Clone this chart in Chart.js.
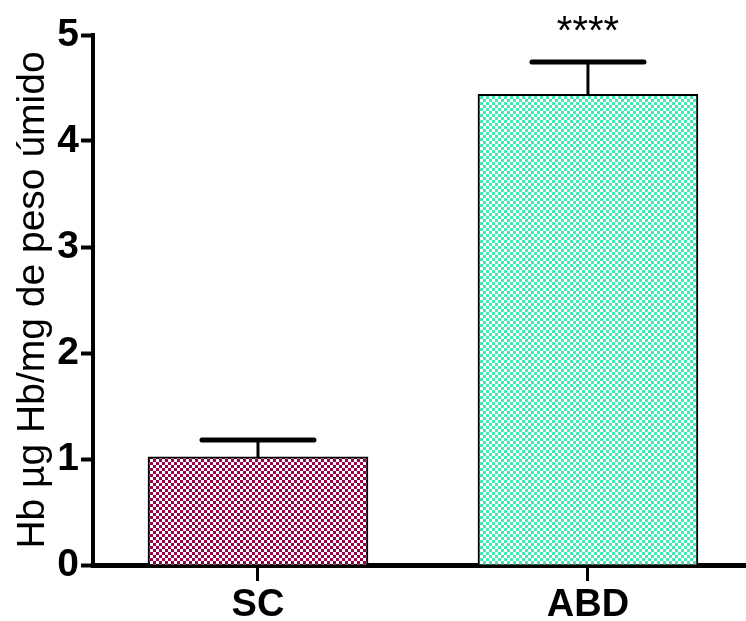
<!DOCTYPE html>
<html>
<head>
<meta charset="utf-8">
<script src="https://cdn.jsdelivr.net/npm/chart.js@4.4.1/dist/chart.umd.min.js"></script>
<style>
    html, body { margin: 0; padding: 0; background: #fff; }
    #wrap { width: 746px; height: 621px; }
</style>
</head>
<body>
<div id="wrap"><canvas id="myChart" width="746" height="621"></canvas></div>
<script>
const categories = ['SC', 'ABD'];
const means = [1.02, 4.44];
const errors = [0.16, 0.305];
const marks = ['', '****'];
const yTicks = [0, 1, 2, 3, 4, 5];
const barColors = ['#99004c', '#40ebb0'];

const FONT = '"Liberation Sans", Arial, sans-serif';

// шахматная заливка 3px
function checker(color) {
    const c = document.createElement('canvas');
    c.width = 6;
    c.height = 6;
    const g = c.getContext('2d');
    g.fillStyle = '#ffffff';
    g.fillRect(0, 0, 6, 6);
    g.fillStyle = color;
    g.fillRect(0, 0, 3, 3);
    g.fillRect(3, 3, 3, 3);
    return g.createPattern(c, 'repeat');
}

const errorBars = {
    id: 'errorBars',
    afterDatasetsDraw(chart) {
        const ctx = chart.ctx;
        const y = chart.scales.y;
        const meta = chart.getDatasetMeta(0);
        ctx.save();
        ctx.strokeStyle = '#000';
        ctx.lineCap = 'round';
        meta.data.forEach((bar, i) => {
            const top = y.getPixelForValue(means[i] + errors[i]);
            const base = y.getPixelForValue(means[i]);
            ctx.lineWidth = 3;
            ctx.beginPath();
            ctx.moveTo(bar.x, base);
            ctx.lineTo(bar.x, top);
            ctx.stroke();
            ctx.lineWidth = 5;
            ctx.beginPath();
            ctx.moveTo(bar.x - 56, top);
            ctx.lineTo(bar.x + 56, top);
            ctx.stroke();
            if (marks[i]) {
                ctx.fillStyle = '#000';
                ctx.font = '40px ' + FONT;
                ctx.textAlign = 'center';
                ctx.textBaseline = 'alphabetic';
                ctx.fillText(marks[i], bar.x, top - 18);
            }
        });
        ctx.restore();
    }
};

const ctx = document.getElementById('myChart').getContext('2d');
const myChart = new Chart(ctx, {
    type: 'bar',
    data: {
        datasets: [{
            data: means.map((v, i) => ({ x: i, y: v })),
            backgroundColor: barColors.map(checker),
            borderColor: '#000',
            borderWidth: 2,
            borderSkipped: 'bottom',
            barThickness: 220
        }]
    },
    options: {
        responsive: false,
        animation: false,
        layout: { padding: { top: 35, right: 0, left: 0, bottom: 0 } },
        plugins: {
            legend: { display: false },
            tooltip: { enabled: false }
        },
        scales: {
            x: {
                type: 'linear',
                min: -0.5,
                max: 1.479,
                offset: false,
                z: 1,
                afterBuildTicks: (s) => { s.ticks = categories.map((c, i) => ({ value: i })); },
                afterFit: (s) => { s.height = 56; },
                ticks: {
                    callback: (v) => categories[v],
                    color: '#000',
                    font: { family: FONT, size: 38, weight: 'bold' },
                    padding: 2,
                    autoSkip: false,
                    maxRotation: 0
                },
                grid: {
                    offset: false,
                    drawOnChartArea: false,
                    drawTicks: true,
                    tickLength: 16,
                    tickWidth: 3,
                    tickColor: '#000'
                },
                border: { display: true, color: '#000', width: 5 }
            },
            y: {
                min: 0,
                max: 5,
                z: 1,
                afterBuildTicks: (s) => { s.ticks = yTicks.map(v => ({ value: v })); },
                afterFit: (s) => { s.width = 93; },
                ticks: {
                    color: '#000',
                    font: { family: FONT, size: 39, weight: 'bold' },
                    padding: 2
                },
                grid: {
                    drawOnChartArea: false,
                    drawTicks: true,
                    tickLength: 12,
                    tickWidth: 4,
                    tickColor: '#000'
                },
                border: { display: true, color: '#000', width: 4 },
                title: {
                    display: true,
                    text: 'Hb µg Hb/mg de peso úmido',
                    color: '#000',
                    font: { family: FONT, size: 39 },
                    padding: { top: 10, bottom: 0 }
                }
            }
        }
    },
    plugins: [errorBars]
});
</script>
</body>
</html>
